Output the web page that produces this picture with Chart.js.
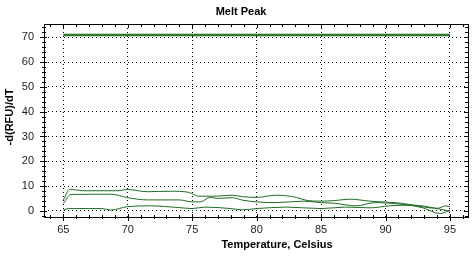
<!DOCTYPE html>
<html>
<head>
<meta charset="utf-8">
<script src="https://cdn.jsdelivr.net/npm/chart.js@4/dist/chart.umd.min.js"></script>
<style>
  html, body { margin: 0; padding: 0; background: #fff; }
  #wrap { width: 476px; height: 256px; }
</style>
</head>
<body>
<div id="wrap"><canvas id="melt"></canvas></div>
<script>
'use strict';

// values
const xTicks = [65, 70, 75, 80, 85, 90, 95];
const yTicks = [0, 10, 20, 30, 40, 50, 60, 70];

const plateau = [{ x: 65, y: 71 }, { x: 95, y: 71 }];

const curveTop = [
  [65, 4.3], [65.5, 8.7], [66.5, 8.1], [69.2, 8.1], [70, 8.6], [71.5, 7.7], [73.3, 7.9],
  [74.7, 7.5], [75.5, 5.9], [76.8, 5.9], [78.1, 6.3], [78.9, 5.7], [80, 5.4], [81.5, 6.3],
  [83.1, 5.4], [83.8, 4.3], [85, 3.9], [86, 4.1], [87.2, 4.7], [88.8, 3.9], [91.3, 3.0],
  [92.9, 1.6], [94, 1.0], [94.7, 2.0], [95, 1.6],
];
const curveMid = [
  [65, 3.0], [65.6, 6.6], [68.7, 6.7], [70, 5.3], [71.5, 4.4], [74, 4.4], [75, 3.6],
  [75.6, 3.6], [76.4, 5.4], [77, 5.0], [78.1, 5.3], [78.9, 4.3], [80, 3.6], [81.5, 3.3],
  [83.6, 3.9], [85, 3.3], [86.1, 3.0], [87.7, 2.0], [89.2, 3.3], [91.3, 2.6], [92.9, 1.2],
  [94.2, -1.1], [95, 0.2],
];
const curveLow = [
  [65, 0.3], [65.4, 0.9], [68, 0.9], [68.7, 0.3], [70, 1.7], [71.7, 2.0], [74, 1.3],
  [75, 0.9], [76, 1.5], [78, 0.9], [78.9, 0.4], [80, 0.9], [82.3, 1.5], [85, 0.9],
  [86.9, 1.5], [88.8, 1.2], [90.3, 2.0], [92.1, 2.3], [94, 0.9], [95, -0.2],
];

const pts = arr => arr.map(([x, y]) => ({ x, y }));
const LINE = '#1f6b25';

// frame, tick marks and text drawn the way the instrument software draws them
const framePlugin = {
  id: 'frame',
  afterDraw(chart) {
    const { ctx, chartArea: a, scales: { x, y } } = chart;
    ctx.save();
    ctx.strokeStyle = '#000';
    ctx.lineWidth = 1;
    ctx.strokeRect(Math.round(a.left) + 0.5, Math.round(a.top) + 0.5,
      Math.round(a.right - a.left), Math.round(a.bottom - a.top));

    ctx.beginPath();
    for (let v = 64; v <= 96; v += 1) {
      const px = Math.round(x.getPixelForValue(v)) + 0.5;
      const major = v % 5 === 0;
      ctx.moveTo(px, a.bottom - (major ? 3 : 2));
      ctx.lineTo(px, a.bottom + (major ? 4 : 2));
      ctx.moveTo(px, a.top);
      ctx.lineTo(px, a.top + (major ? 4 : 3));
    }
    for (let v = -2; v <= 74; v += 2) {
      const py = Math.round(y.getPixelForValue(v)) + 0.5;
      const major = v % 10 === 0;
      ctx.moveTo(a.left - (major ? 4 : 2), py);
      ctx.lineTo(a.left + (major ? 3 : 2), py);
      ctx.moveTo(a.right, py);
      ctx.lineTo(a.right - (major ? 4 : 3), py);
    }
    ctx.stroke();

    ctx.fillStyle = '#000';
    ctx.font = 'bold 11px "Liberation Sans", Arial, sans-serif';
    ctx.textAlign = 'center';
    ctx.textBaseline = 'middle';
    ctx.fillText('Melt Peak', 241, 12);
    ctx.fillText('Temperature, Celsius', 277, 245);
    ctx.translate(10, 117);
    ctx.rotate(-Math.PI / 2);
    ctx.fillText('-d(RFU)/dT', 0, 0);
    ctx.restore();
  },
};

const thin = data => ({
  data: pts(data), borderColor: LINE, borderWidth: 1, pointRadius: 0,
  cubicInterpolationMode: 'monotone', fill: false,
});

new Chart(document.getElementById('melt'), {
  type: 'line',
  data: {
    datasets: [
      { data: plateau, borderColor: '#2a7a2e', borderWidth: 2.5, pointRadius: 0, fill: false },
      thin(curveTop),
      thin(curveMid),
      thin(curveLow),
    ],
  },
  options: {
    responsive: true, maintainAspectRatio: false,
    animation: false,
    layout: { padding: { top: 24, right: 8, left: 0, bottom: 0 } },
    plugins: { legend: { display: false }, tooltip: { enabled: false }, title: { display: false } },
    scales: {
      x: {
        type: 'linear', min: 63.5, max: 96.4,
        afterBuildTicks: s => { s.ticks = xTicks.map(value => ({ value })); },
        afterFit: s => { s.height = 39; },
        ticks: { color: '#222', font: { size: 11, family: '"Liberation Sans", Arial' }, padding: 6 },
        grid: { color: '#000', lineWidth: 1, drawTicks: false },
        border: { display: false, dash: [1, 3] },
      },
      y: {
        min: -2.5, max: 75.4,
        afterBuildTicks: s => { s.ticks = yTicks.map(value => ({ value })); },
        afterFit: s => { s.width = 44; },
        ticks: { color: '#222', font: { size: 11, family: '"Liberation Sans", Arial' }, padding: 10 },
        grid: { color: '#000', lineWidth: 1, drawTicks: false },
        border: { display: false, dash: [1, 3] },
      },
    },
  },
  plugins: [framePlugin],
});
</script>
</body>
</html>
